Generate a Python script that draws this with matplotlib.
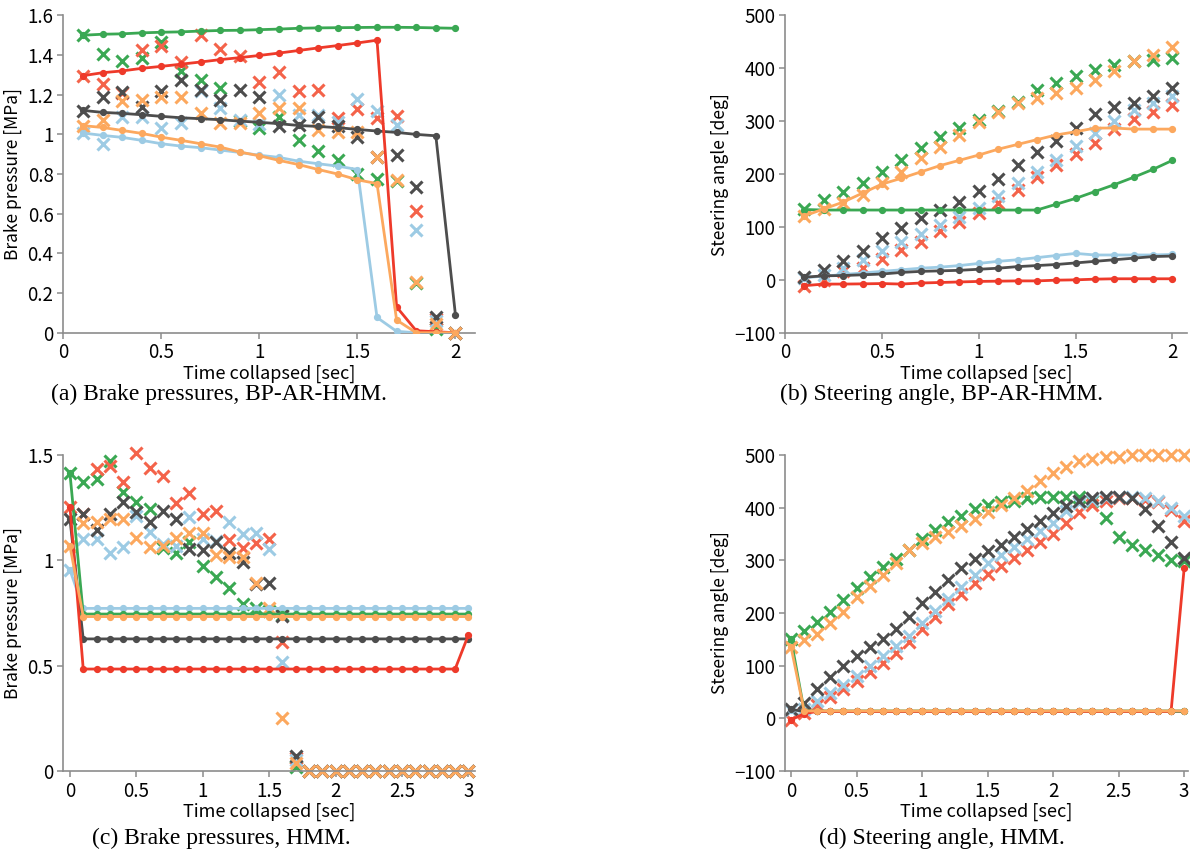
import numpy as np
import matplotlib
matplotlib.use('Agg')
import matplotlib.pyplot as plt
from matplotlib.ticker import FuncFormatter

plt.rcParams['font.family'] = ['Noto Sans CJK JP', 'DejaVu Sans']

# tiempos
t_ar = np.round(np.arange(0.1, 2.01, 0.1), 1)
t_hmm = np.round(np.arange(0.0, 3.01, 0.1), 1)

# (a) presion de freno, BP-AR-HMM: prediccion (lineas) y real (cruces)
a_green_line = [1.50, 1.505, 1.507, 1.512, 1.515, 1.517, 1.521, 1.524, 1.525, 1.528,
                1.531, 1.535, 1.537, 1.538, 1.539, 1.54, 1.54, 1.539, 1.537, 1.535]
a_red_line = [1.296, 1.311, 1.32, 1.333, 1.343, 1.354, 1.365, 1.377, 1.387, 1.398,
              1.41, 1.423, 1.436, 1.448, 1.461, 1.475, 0.13, 0.01, 0.005, 0.0]
a_dark_line = [1.121, 1.111, 1.106, 1.099, 1.091, 1.084, 1.079, 1.074, 1.067, 1.061,
               1.054, 1.045, 1.04, 1.034, 1.025, 1.017, 1.01, 1.0, 0.993, 0.09]
a_blue_line = [1.007, 0.995, 0.985, 0.97, 0.953, 0.941, 0.933, 0.921, 0.909, 0.895,
               0.884, 0.865, 0.852, 0.84, 0.823, 0.077, 0.007, 0.0, 0.0, 0.0]
a_orange_line = [1.044, 1.035, 1.02, 1.005, 0.986, 0.97, 0.953, 0.936, 0.911, 0.892,
                 0.869, 0.848, 0.823, 0.8, 0.771, 0.752, 0.064, 0.0, 0.0, 0.0]

a_green_x = [1.50, 1.407, 1.369, 1.384, 1.468, 1.32, 1.274, 1.236, 1.07, 1.032,
             1.086, 0.973, 0.914, 0.872, 0.798, 0.773, 0.765, 0.25, 0.02, 0.0]
a_red_x = [1.296, 1.254, 1.21, 1.428, 1.446, 1.365, 1.50, 1.431, 1.397, 1.266,
           1.313, 1.219, 1.226, 1.084, 1.13, 1.084, 1.093, 0.613, 0.07, 0.0]
a_dark_x = [1.12, 1.188, 1.214, 1.138, 1.219, 1.273, 1.226, 1.175, 1.226, 1.188,
            1.04, 1.045, 1.087, 1.04, 0.986, 0.885, 0.894, 0.734, 0.077, 0.0]
a_blue_x = [1.007, 0.953, 1.087, 1.09, 1.032, 1.057, 1.219, 1.133, 1.074, 1.054,
            1.2, 1.10, 1.096, 1.06, 1.18, 1.118, 1.045, 0.519, 0.06, 0.0]
a_orange_x = [1.044, 1.071, 1.167, 1.175, 1.188, 1.188, 1.108, 1.059, 1.057, 1.108,
              1.133, 1.133, 1.024, 1.012, 1.01, 0.885, 0.768, 0.254, 0.044, 0.0]

# (b) angulo de volante, BP-AR-HMM
b_green_line = [133, 132, 132, 132, 132, 132, 132, 132, 132, 132,
                132, 132, 132, 143, 154, 167, 180, 194, 209, 226]
b_red_line = [-11, -8, -8, -7.6, -7, -8, -6, -5, -4, -3,
              -2.5, -2, -2, -0.6, 0, 1.3, 2, 2, 2, 2]
b_dark_line = [5, 7.6, 8.2, 9.5, 11, 14, 16, 17, 18, 20,
               22, 25, 27, 29, 32, 35, 38, 41, 44, 45]
b_blue_line = [4, 7, 10, 13, 16, 19, 22, 24, 27, 31,
               35, 38, 42, 46, 50, 47, 47, 47, 47, 48]
b_orange_line = [121, 134, 147, 164, 181, 192, 204, 216, 226, 236,
                 247, 256, 265, 274, 280, 287, 287, 285, 285, 285]

b_green_x = [134, 151, 167, 184, 204, 226, 249, 270, 287, 302,
             320, 337, 358, 372, 386, 397, 406, 413, 416, 420]
b_red_x = [-11, 0, 16, 22, 39, 57, 72, 93, 110, 127,
           146, 170, 194, 218, 238, 258, 285, 304, 318, 331]
b_dark_x = [6, 18, 35, 55, 79, 98, 117, 132, 148, 168,
            191, 218, 241, 262, 287, 314, 326, 335, 348, 363]
b_blue_x = [4, 10, 22, 38, 54, 71, 86, 104, 119, 136,
            159, 183, 203, 227, 253, 277, 301, 321, 335, 348]
b_orange_x = [121, 134, 145, 161, 183, 203, 230, 252, 274, 299,
              318, 334, 344, 353, 363, 377, 395, 413, 425, 441]

# (c) presion de freno, HMM
c_green_line = [1.413, 0.745, 0.745, 0.745, 0.745, 0.745, 0.745, 0.745, 0.745, 0.745, 0.745,
                0.745, 0.745, 0.745, 0.745, 0.745, 0.745, 0.745, 0.745, 0.745, 0.745,
                0.745, 0.745, 0.745, 0.745, 0.745, 0.745, 0.745, 0.745, 0.745, 0.745]
c_red_line = [1.255, 0.484, 0.484, 0.484, 0.484, 0.484, 0.484, 0.484, 0.484, 0.484, 0.484,
              0.484, 0.484, 0.484, 0.484, 0.484, 0.484, 0.484, 0.484, 0.484, 0.484,
              0.484, 0.484, 0.484, 0.484, 0.484, 0.484, 0.484, 0.484, 0.484, 0.646]
c_dark_line = [1.195, 0.627, 0.627, 0.627, 0.627, 0.627, 0.627, 0.627, 0.627, 0.627, 0.627,
               0.627, 0.627, 0.627, 0.627, 0.627, 0.627, 0.627, 0.627, 0.627, 0.627,
               0.627, 0.627, 0.627, 0.627, 0.627, 0.627, 0.627, 0.627, 0.627, 0.627]
c_blue_line = [0.954, 0.772, 0.772, 0.772, 0.772, 0.772, 0.772, 0.772, 0.772, 0.772, 0.772,
               0.772, 0.772, 0.772, 0.772, 0.772, 0.772, 0.772, 0.772, 0.772, 0.772,
               0.772, 0.772, 0.772, 0.772, 0.772, 0.772, 0.772, 0.772, 0.772, 0.772]
c_orange_line = [1.068, 0.733, 0.733, 0.733, 0.733, 0.733, 0.733, 0.733, 0.733, 0.733, 0.733,
                 0.733, 0.733, 0.733, 0.733, 0.733, 0.733, 0.733, 0.733, 0.733, 0.733,
                 0.733, 0.733, 0.733, 0.733, 0.733, 0.733, 0.733, 0.733, 0.733, 0.733]

c_green_x = [1.413, 1.374, 1.385, 1.474, 1.326, 1.279, 1.243, 1.06, 1.037, 1.089, 0.973,
             0.92, 0.867, 0.792, 0.776, 0.76, 0.74, 0.02, 0, 0, 0,
             0, 0, 0, 0, 0, 0, 0, 0, 0, 0]
c_red_x = [1.255, 1.22, 1.432, 1.448, 1.374, 1.508, 1.437, 1.401, 1.271, 1.318, 1.22,
           1.236, 1.096, 1.06, 1.084, 1.10, 0.614, 0.06, 0, 0, 0,
           0, 0, 0, 0, 0, 0, 0, 0, 0, 0]
c_dark_x = [1.195, 1.22, 1.144, 1.22, 1.279, 1.231, 1.184, 1.236, 1.195, 1.053, 1.05,
            1.088, 1.037, 0.99, 0.886, 0.894, 0.736, 0.07, 0, 0, 0,
            0, 0, 0, 0, 0, 0, 0, 0, 0, 0]
c_blue_x = [0.954, 1.10, 1.10, 1.037, 1.062, 1.211, 1.136, 1.078, 1.068, 1.208, 1.10,
            1.09, 1.184, 1.124, 1.129, 1.053, 0.519, 0.05, 0, 0, 0,
            0, 0, 0, 0, 0, 0, 0, 0, 0, 0]
c_orange_x = [1.068, 1.176, 1.184, 1.195, 1.195, 1.108, 1.065, 1.068, 1.105, 1.132, 1.132,
              1.026, 1.015, 1.015, 0.891, 0.772, 0.253, 0.04, 0, 0, 0,
              0, 0, 0, 0, 0, 0, 0, 0, 0, 0]

# (d) angulo de volante, HMM
d_green_line = [150, 14, 14, 14, 14, 14, 14, 14, 14, 14, 14,
                14, 14, 14, 14, 14, 14, 14, 14, 14, 14,
                14, 14, 14, 14, 14, 14, 14, 14, 14, 14]
d_red_line = [-3, 9, 13, 13, 13, 13, 13, 13, 13, 13, 13,
              13, 13, 13, 13, 13, 13, 13, 13, 13, 13,
              13, 13, 13, 13, 13, 13, 13, 13, 13, 285]
d_dark_line = [17, 13, 13, 13, 13, 13, 13, 13, 13, 13, 13,
               13, 13, 13, 13, 13, 13, 13, 13, 13, 13,
               13, 13, 13, 13, 13, 13, 13, 13, 13, 13]
d_blue_line = [15, 13, 13, 13, 13, 13, 13, 13, 13, 13, 13,
               13, 13, 13, 13, 13, 13, 13, 13, 13, 13,
               13, 13, 13, 13, 13, 13, 13, 13, 13, 13]
d_orange_line = [135, 14, 14, 14, 14, 14, 14, 14, 14, 14, 14,
                 14, 14, 14, 14, 14, 14, 14, 14, 14, 14,
                 14, 14, 14, 14, 14, 14, 14, 14, 14, 14]

d_green_x = [151, 166, 182, 202, 224, 248, 269, 288, 302, 319, 340,
             357, 373, 385, 397, 405, 410, 413, 418, 420, 420,
             420, 420, 412, 380, 345, 330, 320, 310, 300, 298]
d_red_x = [-3, 10, 25, 40, 55, 71, 88, 106, 125, 145, 169,
           193, 218, 237, 257, 275, 290, 305, 320, 335, 350,
           370, 392, 405, 412, 418, 418, 415, 410, 395, 375]
d_dark_x = [17, 30, 55, 78, 100, 118, 135, 150, 169, 193, 219,
            240, 262, 285, 303, 318, 330, 345, 360, 375, 390,
            403, 413, 418, 420, 420, 418, 398, 365, 335, 305]
d_blue_x = [15, 18, 32, 48, 64, 80, 100, 118, 137, 156, 181,
            204, 226, 250, 272, 295, 310, 325, 340, 355, 370,
            393, 408, 415, 418, 420, 420, 418, 412, 400, 385]
d_orange_x = [135, 148, 161, 181, 202, 231, 251, 272, 295, 319, 332,
              345, 354, 365, 378, 392, 405, 418, 432, 450, 465,
              478, 488, 493, 496, 497, 500, 500, 500, 500, 500]

GREEN = '#3aa853'
RED = '#ee3a2a'
RED_X = '#f4634a'
ORANGE = '#fca85e'
BLUE = '#9dcbe4'
DARK = '#4d4d4d'
SPINE = '#8c8c8c'


def fmt(v, pos):
    return ('%g' % round(v, 3)).replace('-', '\u2212')


def panel(ax, t, lines, crosses, xlim, ylim, yticks, ylabel):
    # cruces: valores reales
    for y, c in crosses:
        ax.plot(t, y, linestyle='none', marker='x', ms=8, mew=2.2,
                color=c, zorder=2, clip_on=False)
    # lineas: prediccion
    for y, c in lines:
        ax.plot(t, y, '-', marker='o', ms=4.2, lw=2.0, color=c, zorder=3)
    ax.set_xlim(*xlim)
    ax.set_ylim(*ylim)
    ax.set_xticks([0, 0.5, 1, 1.5, 2] if xlim[1] < 2.5 else [0, 0.5, 1, 1.5, 2, 2.5, 3])
    ax.set_yticks(yticks)
    ax.xaxis.set_major_formatter(FuncFormatter(fmt))
    ax.yaxis.set_major_formatter(FuncFormatter(fmt))
    for s in ['top', 'right']:
        ax.spines[s].set_visible(False)
    for s in ['left', 'bottom']:
        ax.spines[s].set_color(SPINE)
        ax.spines[s].set_linewidth(1.2)
    ax.tick_params(direction='out', length=4, width=1.1, color=SPINE,
                   labelsize=13.5, pad=3)
    ax.tick_params(axis='x', pad=3)
    ax.set_xlabel('Time collapsed [sec]', fontsize=13, labelpad=1)
    ax.set_ylabel(ylabel, fontsize=12.5, labelpad=4)


fig = plt.figure(figsize=(11.9, 8.6), dpi=100)

ax_a = fig.add_axes([0.0532, 0.6131, 0.346, 0.369])
panel(ax_a, t_ar,
      [(a_blue_line, BLUE), (a_dark_line, DARK), (a_green_line, GREEN),
       (a_red_line, RED), (a_orange_line, ORANGE)],
      [(a_green_x, GREEN), (a_red_x, RED_X), (a_blue_x, BLUE),
       (a_dark_x, DARK), (a_orange_x, ORANGE)],
      (0, 2.1), (0, 1.6), np.arange(0, 1.61, 0.2), 'Brake pressure [MPa]')

ax_b = fig.add_axes([0.6597, 0.6131, 0.3378, 0.369])
panel(ax_b, t_ar,
      [(b_blue_line, BLUE), (b_dark_line, DARK), (b_green_line, GREEN),
       (b_red_line, RED), (b_orange_line, ORANGE)],
      [(b_green_x, GREEN), (b_red_x, RED_X), (b_blue_x, BLUE),
       (b_dark_x, DARK), (b_orange_x, ORANGE)],
      (0, 2.075), (-100, 500), [-100, 0, 100, 200, 300, 400, 500], 'Steering angle [deg]')

ax_c = fig.add_axes([0.0532, 0.1035, 0.346, 0.3674])
panel(ax_c, t_hmm,
      [(c_blue_line, BLUE), (c_dark_line, DARK), (c_green_line, GREEN),
       (c_red_line, RED), (c_orange_line, ORANGE)],
      [(c_green_x, GREEN), (c_red_x, RED_X), (c_blue_x, BLUE),
       (c_dark_x, DARK), (c_orange_x, ORANGE)],
      (-0.05, 3.05), (0, 1.5), [0, 0.5, 1, 1.5], 'Brake pressure [MPa]')

ax_d = fig.add_axes([0.6597, 0.1035, 0.3387, 0.3674])
panel(ax_d, t_hmm,
      [(d_blue_line, BLUE), (d_dark_line, DARK), (d_green_line, GREEN),
       (d_red_line, RED), (d_orange_line, ORANGE)],
      [(d_green_x, GREEN), (d_red_x, RED_X), (d_blue_x, BLUE),
       (d_dark_x, DARK), (d_orange_x, ORANGE)],
      (-0.046, 3.03), (-100, 500), [-100, 0, 100, 200, 300, 400, 500], 'Steering angle [deg]')

cap = dict(fontsize=17, family='Liberation Serif', ha='center', va='center')
fig.text(219 / 1190, 1 - 394 / 860, '(a) Brake pressures, BP-AR-HMM.', **cap)
fig.text(942 / 1190, 1 - 394 / 860, '(b) Steering angle, BP-AR-HMM.', **cap)
fig.text(221 / 1190, 1 - 838 / 860, '(c) Brake pressures, HMM.', **cap)
fig.text(942 / 1190, 1 - 838 / 860, '(d) Steering angle, HMM.', **cap)

fig.savefig('out.png', dpi=100)
